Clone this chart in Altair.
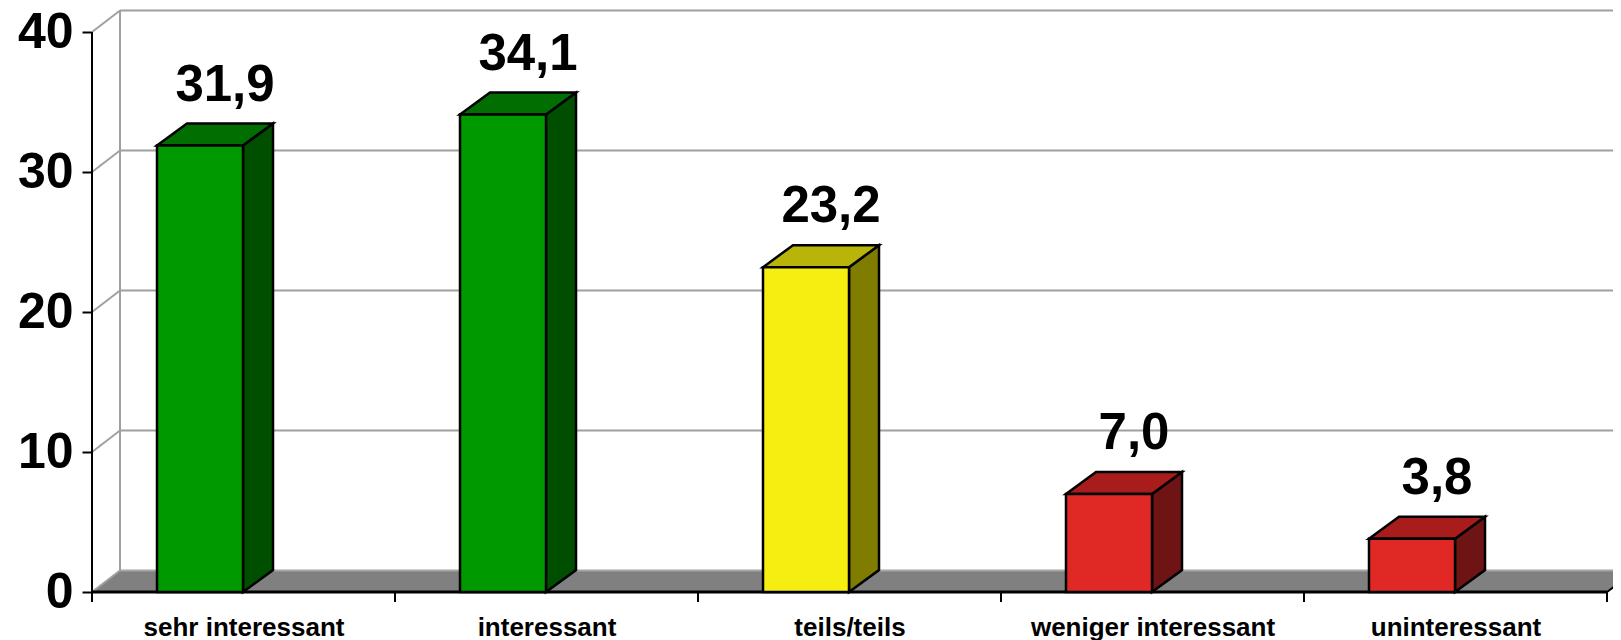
import json
import altair as alt
import pandas as pd

# ---- data ----
categories = ["sehr interessant", "interessant", "teils/teils", "weniger interessant", "uninteressant"]
values = [31.9, 34.1, 23.2, 7.0, 3.8]
value_labels = ["31,9", "34,1", "23,2", "7,0", "3,8"]
front_colors = ["#009900", "#009900", "#F5EE10", "#E02825", "#E02825"]
top_colors = ["#006E00", "#006E00", "#B8B40A", "#A81C1C", "#A81C1C"]
side_colors = ["#004F00", "#004F00", "#807C00", "#6E1414", "#6E1414"]
y_ticks = [0, 10, 20, 30, 40]

# ---- geometry (in scale units) ----
N = len(categories)
PLOT_W = 1521
PLOT_H = 580
XMAX = PLOT_W / 303
YMAX = PLOT_H / 14
WALL_DX = 28 / 303
WALL_DY = 21.5 / 14
BAR_OFF = 65 / 303
BAR_W = 86 / 303
BAR_DX = 30 / 303
BAR_DY = 22 / 14
LABEL_DX = 68 / 303
LABEL_DY = 3.2

xs = alt.Scale(domain=[0, XMAX], nice=False, zero=False)
ys = alt.Scale(domain=[0, YMAX], nice=False, zero=False)

label_expr = json.dumps(categories) + "[floor(datum.value)]"
x_axis = alt.Axis(
    values=[i + 0.5 for i in range(N)], labelExpr=label_expr, ticks=False,
    domain=False, grid=False, labelFontSize=26, labelFont="Liberation Sans",
    labelFontWeight="bold", labelColor="black", labelPadding=22,
    labelFlush=False, labelOverlap=False, labelLimit=0, title=None)
y_axis = alt.Axis(
    values=y_ticks, tickSize=10, tickWidth=2, tickColor="black",
    domain=False, grid=False, labelFontSize=50, labelFont="Liberation Sans",
    labelFontWeight="bold", labelColor="black", labelPadding=9, title=None)


def X(f, **kw):
    return alt.X(f, type="quantitative", scale=xs, axis=x_axis, **kw)


def Y(f, **kw):
    return alt.Y(f, type="quantitative", scale=ys, axis=y_axis, **kw)


layers = []

# floor
floor_df = pd.DataFrame({
    "x": [0, N, N + WALL_DX, WALL_DX],
    "y": [0, 0, WALL_DY, WALL_DY],
    "o": [0, 1, 2, 3],
})
layers.append(alt.Chart(floor_df).mark_line(
    fill="#808080", stroke="#808080", strokeWidth=1, interpolate="linear-closed"
).encode(x=X("x"), y=Y("y"), order="o:Q"))

# back floor edge (lighter)
layers.append(alt.Chart(pd.DataFrame({"x": [WALL_DX], "x2": [XMAX], "y": [WALL_DY]})).mark_rule(
    color="#A6A6A6", strokeWidth=2).encode(x=X("x"), x2="x2", y=Y("y")))

# back gridlines + left wall diagonals + back wall vertical
grid_df = pd.DataFrame({"v": y_ticks})
grid_df["yb"] = grid_df["v"] + WALL_DY
grid_df["x0"] = WALL_DX
grid_df["x1"] = XMAX
grid_df["xf"] = 0.0
layers.append(alt.Chart(grid_df[grid_df.v > 0]).mark_rule(color="#A0A0A0", strokeWidth=2).encode(
    x=X("x0"), x2="x1", y=Y("yb")))
layers.append(alt.Chart(grid_df).mark_rule(color="#A0A0A0", strokeWidth=2).encode(
    x=X("xf"), x2="x0", y=Y("v"), y2="yb"))
layers.append(alt.Chart(pd.DataFrame({"x": [WALL_DX], "y": [WALL_DY], "y2": [max(y_ticks) + WALL_DY]})).mark_rule(
    color="#A0A0A0", strokeWidth=2).encode(x=X("x"), y=Y("y"), y2="y2"))

# front axis lines
layers.append(alt.Chart(pd.DataFrame({"x": [0], "y": [0], "y2": [max(y_ticks)]})).mark_rule(
    color="black", strokeWidth=2).encode(x=X("x"), y=Y("y"), y2="y2"))
layers.append(alt.Chart(pd.DataFrame({"x": [0], "x2": [N], "y": [0]})).mark_rule(
    color="black", strokeWidth=3).encode(x=X("x"), x2="x2", y=Y("y")))
layers.append(alt.Chart(pd.DataFrame({"x": [N], "y": [0], "x2": [N + WALL_DX], "y2": [WALL_DY]})).mark_rule(
    color="black", strokeWidth=2).encode(x=X("x"), x2="x2", y=Y("y"), y2="y2"))
# category boundary ticks
tick_df = pd.DataFrame({"x": list(range(N + 1))})
tick_df["y"] = 0.0
tick_df["y2"] = -10 / 14
layers.append(alt.Chart(tick_df).mark_rule(color="black", strokeWidth=2).encode(
    x=X("x"), y=Y("y"), y2="y2"))

# bars
for i, (v, fc, tc, sc) in enumerate(zip(values, front_colors, top_colors, side_colors)):
    x0 = i + BAR_OFF
    x1 = x0 + BAR_W
    top_df = pd.DataFrame({
        "x": [x0, x1, x1 + BAR_DX, x0 + BAR_DX],
        "y": [v, v, v + BAR_DY, v + BAR_DY], "o": [0, 1, 2, 3]})
    side_df = pd.DataFrame({
        "x": [x1, x1 + BAR_DX, x1 + BAR_DX, x1],
        "y": [0, BAR_DY, v + BAR_DY, v], "o": [0, 1, 2, 3]})
    front_df = pd.DataFrame({"x": [x0], "x2": [x1], "y": [0], "y2": [v]})
    layers.append(alt.Chart(side_df).mark_line(
        fill=sc, stroke="black", strokeWidth=2.5, interpolate="linear-closed", strokeJoin="miter"
    ).encode(x=X("x"), y=Y("y"), order="o:Q"))
    layers.append(alt.Chart(top_df).mark_line(
        fill=tc, stroke="black", strokeWidth=2.5, interpolate="linear-closed", strokeJoin="miter"
    ).encode(x=X("x"), y=Y("y"), order="o:Q"))
    layers.append(alt.Chart(front_df).mark_rect(
        fill=fc, stroke="black", strokeWidth=2.5
    ).encode(x=X("x"), x2="x2", y=Y("y"), y2="y2"))

# value labels
lab_df = pd.DataFrame({
    "x": [i + BAR_OFF + LABEL_DX for i in range(N)],
    "y": [v + LABEL_DY for v in values],
    "t": value_labels,
})
layers.append(alt.Chart(lab_df).mark_text(
    fontSize=51, font="Liberation Sans", fontWeight="bold", color="black",
    baseline="alphabetic", align="center"
).encode(x=X("x"), y=Y("y"), text="t:N"))

chart = alt.layer(*layers).properties(
    width=PLOT_W, height=PLOT_H,
    autosize=alt.AutoSizeParams(type="none"),
    padding={"left": 84, "top": 4, "right": 0, "bottom": 48},
).configure_view(stroke=None)

chart.save("out.html", embed_options={"renderer": "svg", "actions": False})
